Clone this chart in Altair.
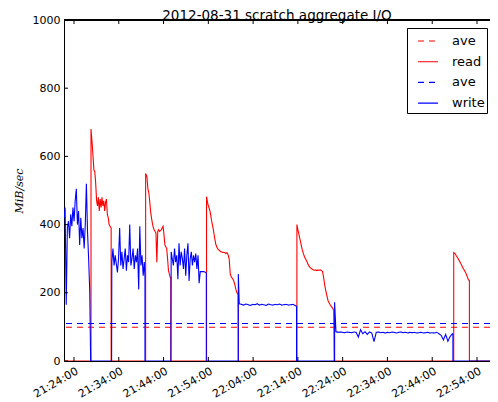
import altair as alt
import pandas as pd

# x values are minutes after 21:24:00 on 2012-08-31
X_MIN, X_MAX = -2.23, 92.90
X_TICKS = [0, 10, 20, 30, 40, 50, 60, 70, 80, 90]
X_LABELS = ["21:24:00", "21:34:00", "21:44:00", "21:54:00", "22:04:00",
            "22:14:00", "22:24:00", "22:34:00", "22:44:00", "22:54:00"]
Y_TICKS = [0, 200, 400, 600, 800, 1000]

READ_AVE = 99
WRITE_AVE = 110

# pieces: (first minute, sample step in minutes, values in MiB/sec)
write_pieces = [
    (-2.23, 0.25, [420, 450, 165, 390, 410, 360, 430, 395, 450, 410, 470, 505, 400, 440,
                   340, 420, 360, 390, 330, 400, 520, 380, 300, 205]),
    (3.72, 0, [0]),
    (8.40, 0, [0]),
    (8.45, 0.25, [290, 330, 280, 310, 285, 260, 300, 390, 280, 320, 270, 300, 330, 265, 310,
                  290, 400, 280, 300, 330, 270, 310, 290, 330, 210, 395, 280, 310, 250, 290]),
    (15.85, 0, [245, 0]),
    (21.65, 0, [0]),
    (21.7, 0.25, [320, 300, 280, 330, 290, 310, 240, 345, 280, 320, 300, 270, 330, 250, 310,
                  345, 235, 300, 320, 280, 310, 290, 315, 270, 310, 228, 262]),
    (28.6, 0.4, [262, 262, 260]),
    (29.55, 0, [258, 0]),
    (36.7, 0, [0, 255]),
    (36.9, 0.5, [168, 166, 164, 167, 165, 163, 166, 165, 168, 164, 166, 165, 163, 167, 165,
                 164, 166, 165, 167, 164, 165, 166, 164, 165, 166, 163]),
    (49.7, 0, [160, 0]),
    (58.2, 0, [0, 172]),
    (58.5, 0.5, [86, 84, 85, 84, 83, 85, 84, 83, 85, 84, 70, 92, 80, 86, 78, 85, 82, 57,
                 84, 85, 83, 84, 82, 84, 83, 85, 84, 82, 84, 85, 83, 84, 82, 84, 83, 84,
                 82, 83, 84, 82, 83, 84, 82, 83, 82, 84, 80, 75, 62, 78, 58, 72, 80]),
    (84.62, 0, [78, 0]),
    (92.90, 0, [0]),
]

read_pieces = [
    (-2.23, 0, [0]),
    (3.8, 0, [0, 680]),
    (4.05, 0.2, [640, 600, 560, 555, 520, 470, 455, 480, 440, 475, 450, 480, 455, 470, 440,
                 465, 475, 430, 420, 400, 395]),
    (8.3, 0, [390, 0]),
    (16.0, 0, [0, 550]),
    (16.3, 0.2, [540, 505, 495, 470, 440, 420, 405, 392, 385, 380, 375, 290, 380, 385, 380,
                 382, 385, 390, 395, 370, 340, 335, 330, 300, 265, 255, 245]),
    (21.62, 0, [245, 0]),
    (29.6, 0, [0, 482]),
    (29.9, 0.25, [460, 450, 438, 418, 400, 383, 362, 343, 334, 328, 325, 322, 320, 319, 318,
                  318, 315, 318, 312, 300, 255, 246, 242, 236, 225, 210, 200, 195]),
    (36.68, 0, [0]),
    (49.78, 0, [0, 400]),
    (50.0, 0.25, [385, 370, 355, 340, 325, 314, 305, 298, 292, 284, 278, 274, 271, 269, 267,
                  266, 267, 265, 267, 266, 267, 265, 263, 245, 222, 205, 190, 176, 170, 164,
                  159, 155, 149]),
    (58.1, 0, [0]),
    (84.8, 0, [0, 318]),
    (85.1, 0.3, [315, 308, 302, 295, 288, 280, 272, 265, 258, 248, 238]),
    (88.3, 0, [236, 0]),
    (92.90, 0, [0]),
]

KEYS = ["ave_r", "read", "ave_w", "write"]
LABELS = ["ave", "read", "ave", "write"]
COLORS = ["#ff0000", "#ff0000", "#0000ff", "#0000ff"]
DASHES = [[6, 5], [1, 0], [6, 5], [1, 0]]


def expand(pieces, key):
    rows = []
    for start, step, vals in pieces:
        for k, v in enumerate(vals):
            rows.append({"t": start + k * step, "v": v, "series": key, "i": len(rows)})
    return pd.DataFrame(rows)


read_df = expand(read_pieces, "read")
write_df = expand(write_pieces, "write")
ave_r_df = pd.DataFrame({"v": [READ_AVE], "series": ["ave_r"]})
ave_w_df = pd.DataFrame({"v": [WRITE_AVE], "series": ["ave_w"]})
xtick_df = pd.DataFrame({"t": X_TICKS})
ytick_df = pd.DataFrame({"v": Y_TICKS})

W, H = 426, 341

x_label_expr = "[" + ",".join(f"'{s}'" for s in X_LABELS) + "][indexof([" + \
    ",".join(str(v) for v in X_TICKS) + "], datum.value)]"
legend_label_expr = "[" + ",".join(f"'{s} '" for s in LABELS) + "][indexof([" + \
    ",".join(f"'{k}'" for k in KEYS) + "], datum.label)]"

x_scale = alt.Scale(domain=[X_MIN, X_MAX], nice=False, zero=False)
y_scale = alt.Scale(domain=[0, 1000], nice=False, zero=False)

x_axis = alt.Axis(values=X_TICKS, labelExpr=x_label_expr, labelAngle=330, labelAlign="right",
                  labelBaseline="top", labelFontSize=11, labelPadding=4, ticks=False,
                  tickSize=0, grid=False, domain=True, domainColor="black", domainWidth=1,
                  title=None, labelColor="black", labelFont="DejaVu Sans",
                  labelOverlap=False, labelBound=False, labelFlush=False)
y_axis = alt.Axis(values=Y_TICKS, format="d", labelFontSize=11, labelPadding=4, ticks=False,
                  tickSize=0, grid=False, domain=True, domainColor="black", domainWidth=1,
                  title="MiB/sec", titleFont="DejaVu Serif",
                  titleFontStyle="italic", titleFontWeight="normal", titleFontSize=11,
                  titlePadding=8, labelColor="black", titleColor="black",
                  labelFont="DejaVu Sans", labelOverlap=False, labelFlush=False)

legend = alt.Legend(title=None, orient="none", legendX=343, legendY=8, strokeColor="black",
                    fillColor="white", padding=2, cornerRadius=0, symbolType="stroke",
                    symbolSize=400, symbolStrokeWidth=1.1, symbolOffset=8, labelOffset=13,
                    labelFontSize=13, labelFont="DejaVu Sans", rowPadding=2.7,
                    labelExpr=legend_label_expr, labelColor="black")

color = alt.Color("series:N", scale=alt.Scale(domain=KEYS, range=COLORS), legend=legend)
dash = alt.StrokeDash("series:N", scale=alt.Scale(domain=KEYS, range=DASHES), legend=legend)

X = alt.X("t:Q", scale=x_scale, axis=x_axis)
Y = alt.Y("v:Q", scale=y_scale, axis=y_axis)

ave_r = alt.Chart(ave_r_df).mark_rule(strokeWidth=1.1).encode(y=Y, color=color, strokeDash=dash)
read = alt.Chart(read_df).mark_line(strokeWidth=1.1, clip=True).encode(
    x=X, y=Y, color=color, strokeDash=dash, order="i:Q")
ave_w = alt.Chart(ave_w_df).mark_rule(strokeWidth=1.1).encode(y=Y, color=color, strokeDash=dash)
write = alt.Chart(write_df).mark_line(strokeWidth=1.1, clip=True).encode(
    x=X, y=Y, color=color, strokeDash=dash, order="i:Q")

xt_bottom = alt.Chart(xtick_df).mark_rule(color="black", strokeWidth=1).encode(
    x=X, y=alt.value(H), y2=alt.value(H - 4))
xt_top = alt.Chart(xtick_df).mark_rule(color="black", strokeWidth=1).encode(
    x=X, y=alt.value(0), y2=alt.value(4))
yt_left = alt.Chart(ytick_df).mark_rule(color="black", strokeWidth=1).encode(
    y=Y, x=alt.value(0), x2=alt.value(4))
top_spine = alt.Chart(xtick_df).mark_rule(color="black", strokeWidth=1).encode(
    y=alt.value(0), x=alt.value(0), x2=alt.value(W))

chart = alt.layer(ave_r, read, ave_w, write, xt_bottom, xt_top, yt_left, top_spine).properties(
    width=W, height=H,
    title=alt.TitleParams("2012-08-31 scratch aggregate I/O", fontSize=13.5, font="DejaVu Sans",
                          fontWeight="normal", offset=2, dy=10.5, anchor="middle",
                          color="black"),
    autosize=alt.AutoSizeParams(type="none"),
    padding={"left": 56, "top": 12, "right": 0, "bottom": 45},
).configure_view(stroke=None).configure(background="white")

chart.save("out.html", embed_options={"renderer": "svg", "actions": False})
